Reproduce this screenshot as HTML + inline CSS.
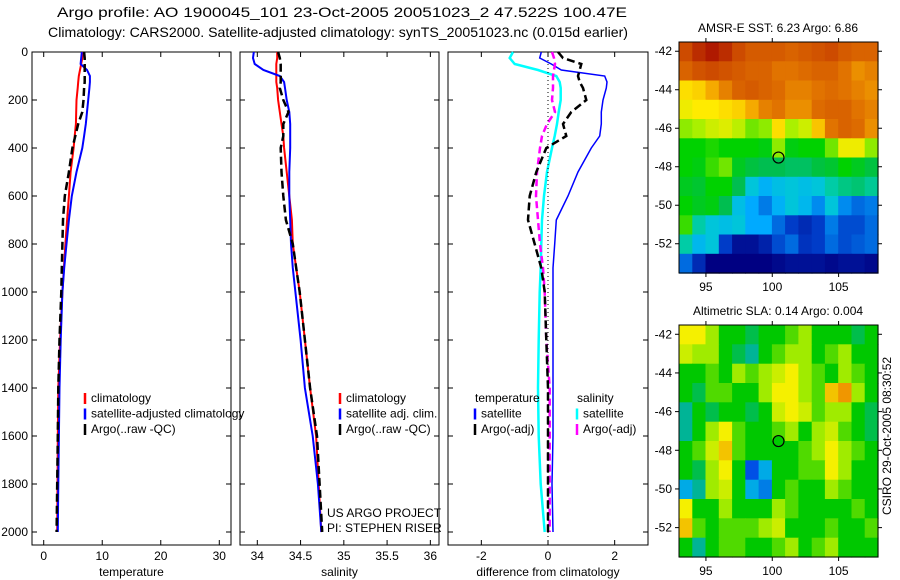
<!DOCTYPE html>
<html><head><meta charset="utf-8"><style>
body{margin:0;background:#fff;}
svg{display:block;font-family:"Liberation Sans",sans-serif;}
</style></head><body>
<svg id="fig" width="900" height="580" viewBox="0 0 900 580">
<text x="342" y="17" font-size="14" text-anchor="middle" textLength="570" lengthAdjust="spacingAndGlyphs">Argo profile: AO 1900045_101 23-Oct-2005 20051023_2 47.522S 100.47E</text>
<text x="338" y="37" font-size="14" text-anchor="middle" textLength="580" lengthAdjust="spacingAndGlyphs">Climatology: CARS2000. Satellite-adjusted climatology: synTS_20051023.nc (0.015d earlier)</text>
</svg>
<script>
// ---- profile data ----
const depths = [0,25,50,75,100,125,150,200,250,300,350,400,500,600,700,800,900,1000,1200,1400,1600,1800,2000];
const tempClim = [6.7,6.6,6.4,6.2,6.0,5.9,5.8,5.6,5.55,5.5,5.3,5.1,4.6,4.3,4.0,3.7,3.45,3.2,2.8,2.5,2.4,2.35,2.3];
const tempSat = [6.5,6.4,6.3,7.4,7.9,7.9,7.8,7.6,7.4,7.2,6.9,6.6,5.6,4.8,4.3,3.9,3.5,3.2,2.9,2.7,2.6,2.5,2.4];
const tempArgo = [6.9,7.0,7.0,7.0,7.0,7.0,6.9,6.8,6.6,5.9,5.4,4.9,4.3,3.6,3.3,3.2,3.1,3.0,2.7,2.5,2.4,2.3,2.2];
const salClim = [34.23,34.23,34.22,34.22,34.22,34.22,34.23,34.24,34.26,34.28,34.30,34.31,34.34,34.37,34.40,34.41,34.45,34.49,34.55,34.61,34.68,34.71,34.74];
const salSat = [33.96,33.95,33.97,34.07,34.26,34.31,34.32,34.34,34.37,34.38,34.38,34.38,34.37,34.37,34.38,34.39,34.41,34.44,34.50,34.55,34.64,34.70,34.74];
const salArgo = [34.24,34.26,34.27,34.27,34.27,34.27,34.26,34.30,34.36,34.30,34.30,34.27,34.28,34.30,34.33,34.41,34.45,34.49,34.55,34.61,34.69,34.72,34.75];
const diffTsat = [-0.2,-0.25,0.1,0.4,1.7,1.77,1.75,1.65,1.6,1.6,1.55,1.3,0.9,0.6,0.25,0.2,0.15,0.15,0.15,0.15,0.15,0.12,0.15];
const diffTargo = [0.3,0.45,1.0,0.95,0.9,0.95,1.05,1.15,0.7,0.45,0.55,-0.05,-0.35,-0.55,-0.6,-0.4,-0.2,-0.1,-0.05,0,0,0,0];
const diffSsat = [-1.05,-1.15,-1.0,-0.3,0.25,0.35,0.38,0.38,0.32,0.27,0.2,0.12,-0.03,-0.12,-0.18,-0.2,-0.22,-0.25,-0.28,-0.3,-0.28,-0.22,-0.1];
const diffSargo = [0.12,0.18,0.21,0.18,0.15,0.15,0.15,0.12,0.21,-0.03,-0.18,-0.24,-0.33,-0.36,-0.3,-0.24,-0.15,-0.1,-0.05,0.05,0.05,0.05,0.05];
const depthTicks = [0,200,400,600,800,1000,1200,1400,1600,1800,2000];
const tempTicks = [0,10,20,30];
const salTicks = [34,34.5,35,35.5,36];
const diffTicks = [-2,0,2];
// ---- map data (1 deg cells, rows north->south from -41.52, cols west->east from 92.97) ----
const mapLonTicks = [95,100,105];
const mapLatTicks = [-42,-44,-46,-48,-50,-52];
const sstGrid = [
[8.5,8.8,9,8.8,8.5,8.3,8.3,8.3,8.2,8.3,8.4,8.5,8.3,8.2,8.2],
[8.2,8.4,8.5,8.4,8.3,8.2,8.2,8,8,8.1,8.2,8.2,8,7.8,7.9],
[7.2,7.3,7.6,7.9,8.2,8.3,8.2,8.1,7.9,7.9,8,8.1,8,7.9,7.8],
[7,7.1,7.1,7.2,7.3,7.6,7.9,8,7.8,7.8,8.1,8.2,8.2,8,7.9],
[6.5,6.6,6.8,6.9,6.7,6.4,6.5,7.2,6.6,6.8,7.4,8,8.2,8.1,7.8],
[6,6,6.1,6,6,6,5.9,6.5,5.9,6,6,6.4,7,7,6.5],
[6,5.9,6.2,6.4,5.8,5.6,5.5,5.5,5.4,5.4,5.6,5.7,6,5.8,5.6],
[5.8,5.7,6,6,5.5,4.6,4.3,4.5,4.6,4.5,4.6,5,5.2,5.3,5.1],
[6,5.8,5.9,5.5,4.5,4.2,3.9,4.3,4.6,4.4,4,4.6,4,3.8,3.9],
[6.2,5,4.6,4.5,4.6,4.2,4.2,3.8,3.5,3.3,3.5,3.9,3.6,3.6,3.8],
[5,4.4,4.6,3.5,3,3,3.2,3.6,3.8,3.4,3.5,3.8,3.6,3.7,3.8],
[3.8,3.3,2.8,2.8,2.8,2.8,2.8,2.9,3,3,3,2.9,3,3,2.9]];
const slaGrid = [
[0.2,0.2,0.1,0,0,-0.05,0,0,0.05,0.1,0,0,0,-0.05,0],
[0.15,0.1,0.1,0,-0.05,-0.1,0,0.05,0.1,0.1,0,0.05,0.1,0,0],
[0,0,0.05,0,0.1,0.05,0.1,0.15,0.2,0.1,0.05,0,0.1,0.05,0],
[0,-0.05,0.05,0.05,0,0,0.1,0.2,0.2,0.1,0.05,0.25,0.3,0.1,0],
[-0.1,0,-0.05,0,0,-0.05,0,0.15,0.2,0.15,0.05,0.1,0.1,0,-0.05],
[-0.1,0,0.1,0.2,0.05,0,0,0.05,0.1,0,0.1,0.15,0.05,0,-0.05],
[0,0.05,0.15,0.25,0.05,0,0,0,0,0.05,0.1,0.2,0.1,0.05,0],
[0,-0.05,0.1,0.2,0,-0.3,-0.2,0,0,0.05,0.05,0.2,0.1,0,0],
[-0.2,-0.1,0.1,0.15,0,-0.2,-0.25,0,0.05,0,0,0.1,0.05,0,0],
[0.2,0,0,0.1,0,0,0,0.1,0.05,0,0,0,0,0.05,0],
[0.25,0.05,0,0.05,0.05,0.05,0.1,0.15,0,0,0,0.05,0,0,0.05],
[0,-0.1,0,0.05,0.05,0,0,0.05,0.1,0,0.05,0.1,0,0,0]];
const floatLon = 100.47, floatLat = -47.522;

const NS='http://www.w3.org/2000/svg';
const svg=document.getElementById('fig');
function mk(tag,attrs,parent){const e=document.createElementNS(NS,tag);for(const k in attrs)e.setAttribute(k,attrs[k]);(parent||svg).appendChild(e);return e;}
function txt(x,y,s,size,anchor,parent){const t=mk('text',{x:x,y:y,'font-size':size,'text-anchor':anchor||'start'},parent);t.textContent=s;return t;}

const top0=52, bot=545;
const yD=d=>top0+d*0.24;

function panel(name,x0,x1,xmin,xmax,ticks,label,series,showY){
  const g=mk('g',{});
  
  
  const xs=v=>x0+(v-xmin)/(xmax-xmin)*(x1-x0);
  mk('rect',{x:x0,y:top0,width:x1-x0,height:bot-top0,fill:'#fff',stroke:'#000','stroke-width':1},g);
  ticks.forEach(t=>{const x=xs(t);
    mk('line',{x1:x,y1:bot,x2:x,y2:bot-5,stroke:'#000'},g);
    mk('line',{x1:x,y1:top0,x2:x,y2:top0+5,stroke:'#000'},g);
    const tl=txt(x,560,String(t),12,'middle',g);
    
    
  });
  depthTicks.forEach(d=>{const y=yD(d);
    mk('line',{x1:x0,y1:y,x2:x0+5,y2:y,stroke:'#000'},g);
    mk('line',{x1:x1,y1:y,x2:x1-5,y2:y,stroke:'#000'},g);
    if(showY){const tl=txt(28,y+4,String(d),12,'end',g);
      
      }
  });
  const al=txt((x0+x1)/2,576,label,12,'middle',g);
  
  
  series.forEach(s=>{
    const pts=s.vals.map((v,i)=>xs(v).toFixed(1)+','+yD(depths[i]).toFixed(1)).join(' ');
    const p=mk('polyline',{points:pts,fill:'none',stroke:s.c,'stroke-width':s.w||2,'stroke-dasharray':s.dash||'none'},g);
    
    
  });
  return {g,xs};
}
panel('temperature-panel',32,231,-2,32,tempTicks,'temperature',[
 {vals:tempClim,c:'#f00',n:'temp-climatology-line'},
 {vals:tempSat,c:'#00f',n:'temp-satellite-line'},
 {vals:tempArgo,c:'#000',dash:'8,4',w:2.5,n:'temp-argo-line'}],true);
panel('salinity-panel',240,439,33.8,36.1,salTicks,'salinity',[
 {vals:salClim,c:'#f00',n:'sal-climatology-line'},
 {vals:salSat,c:'#00f',n:'sal-satellite-line'},
 {vals:salArgo,c:'#000',dash:'8,4',w:2.5,n:'sal-argo-line'}],false);
const dp=panel('difference-panel',448,648,-3,3,diffTicks,'difference from climatology',[
 {vals:diffTsat,c:'#00f',w:1.5,n:'diff-temp-satellite-line'},
 {vals:diffSsat,c:'#0ff',w:2.5,n:'diff-sal-satellite-line'},
 {vals:diffSargo,c:'#f0f',dash:'7,4',w:2.5,n:'diff-sal-argo-line'},
 {vals:diffTargo,c:'#000',dash:'8,4',w:2.5,n:'diff-temp-argo-line'}],false);
const zl=mk('line',{x1:dp.xs(0),y1:top0,x2:dp.xs(0),y2:bot,stroke:'#000','stroke-dasharray':'1,3','stroke-width':1});



function legend(name,x,y,items){
  const g=mk('g',{});
  
  
  items.forEach((it,i)=>{
    const yy=y+i*15.5;
    if(it.c) mk('line',{x1:x,y1:yy-9,x2:x,y2:yy+2,stroke:it.c,'stroke-width':2.5},g);
    txt(x+(it.c?6:0),yy,it.t,12,'start',g);
  });
}
legend('temperature-legend',85,402,[{c:'#f00',t:'climatology'},{c:'#00f',t:'satellite-adjusted climatology'},{c:'#000',t:'Argo(..raw -QC)'}]);
legend('salinity-legend',340,402,[{c:'#f00',t:'climatology'},{c:'#00f',t:'satellite adj. clim.'},{c:'#000',t:'Argo(..raw -QC)'}]);
legend('diff-temp-legend',475,402,[{t:' temperature'},{c:'#00f',t:'satellite'},{c:'#000',t:'Argo(-adj)'}]);
legend('diff-sal-legend',577,402,[{t:'  salinity'},{c:'#0ff',t:'satellite'},{c:'#f0f',t:'Argo(-adj)'}]);
const cr1=txt(327,517,'US ARGO PROJECT',12,'start');  
const cr2=txt(327,532,'PI: STEPHEN RISER',12,'start');  

// ---- maps ----
function colorOf(stops,v){
  if(v<=stops[0][0])return 'rgb('+stops[0][1].join(',')+')';
  for(let i=1;i<stops.length;i++){if(v<=stops[i][0]){const a=stops[i-1],b=stops[i],t=(v-a[0])/(b[0]-a[0]);
    return 'rgb('+a[1].map((c,k)=>Math.round(c+(b[1][k]-c)*t)).join(',')+')';}}
  return 'rgb('+stops[stops.length-1][1].join(',')+')';
}
const sstStops=[[2.8,[0,0,130]],[3.5,[0,60,200]],[4.2,[0,170,255]],[4.8,[0,210,200]],[5.5,[0,190,80]],[6,[0,210,0]],[6.6,[170,240,0]],[7.1,[255,235,0]],[7.6,[245,170,0]],[8,[225,115,0]],[8.5,[205,75,0]],[9,[175,25,0]]];
const slaStops=[[-0.3,[0,80,230]],[-0.2,[0,170,230]],[-0.1,[0,180,150]],[0,[0,200,0]],[0.1,[160,235,0]],[0.2,[245,240,0]],[0.3,[240,150,0]]];

function mapPanel(name,y0,y1,grid,stops,title,filled){
  const x0=679,x1=878,lon0=92.97,lon1=107.97,lat0=-41.52,lat1=-53.52;
  const g=mk('g',{});
  
  
  const xs=l=>x0+(l-lon0)/(lon1-lon0)*(x1-x0);
  const ys=l=>y0+(l-lat0)/(lat1-lat0)*(y1-y0);
  grid.forEach((row,r)=>row.forEach((v,c)=>{
    const xa=xs(lon0+c),xb=xs(lon0+c+1),ya=ys(lat0-r),yb=ys(lat0-r-1);
    const rc=mk('rect',{x:xa.toFixed(1),y:ya.toFixed(1),width:(xb-xa+0.6).toFixed(1),height:(yb-ya+0.6).toFixed(1),fill:colorOf(stops,v)},g);
    
    
  }));
  mk('rect',{x:x0,y:y0,width:x1-x0,height:y1-y0,fill:'none',stroke:'#000'},g);
  mapLonTicks.forEach(l=>{const x=xs(l);
    mk('line',{x1:x,y1:y0,x2:x,y2:y0-4,stroke:'#000'},g);
    mk('line',{x1:x,y1:y1,x2:x,y2:y1+4,stroke:'#000'},g);
    txt(x,y1+18,String(l),12,'middle',g);});
  mapLatTicks.forEach(l=>{const y=ys(l);
    mk('line',{x1:x0,y1:y,x2:x0-4,y2:y,stroke:'#000'},g);
    mk('line',{x1:x1,y1:y,x2:x1+4,y2:y,stroke:'#000'},g);
    txt(672,y+4,String(l),12,'end',g);});
  const t=txt(778,y0-10,title,12,'middle',g);
  
  
  const m=mk('circle',{cx:xs(floatLon),cy:ys(floatLat),r:5.5,fill:filled?'#0c0':'none',stroke:'#000','stroke-width':1.2},g);
  
  
}
mapPanel('sst-map',42,273,sstGrid,sstStops,'AMSR-E SST: 6.23 Argo: 6.86',false);
mapPanel('sla-map',325,557,slaGrid,slaStops,'Altimetric SLA: 0.14 Argo: 0.004',true);
const ts=txt(0,0,'CSIRO 29-Oct-2005 08:30:52',12,'middle');
ts.setAttribute('transform','translate(891,436) rotate(-90)');


</script>
</body></html>
